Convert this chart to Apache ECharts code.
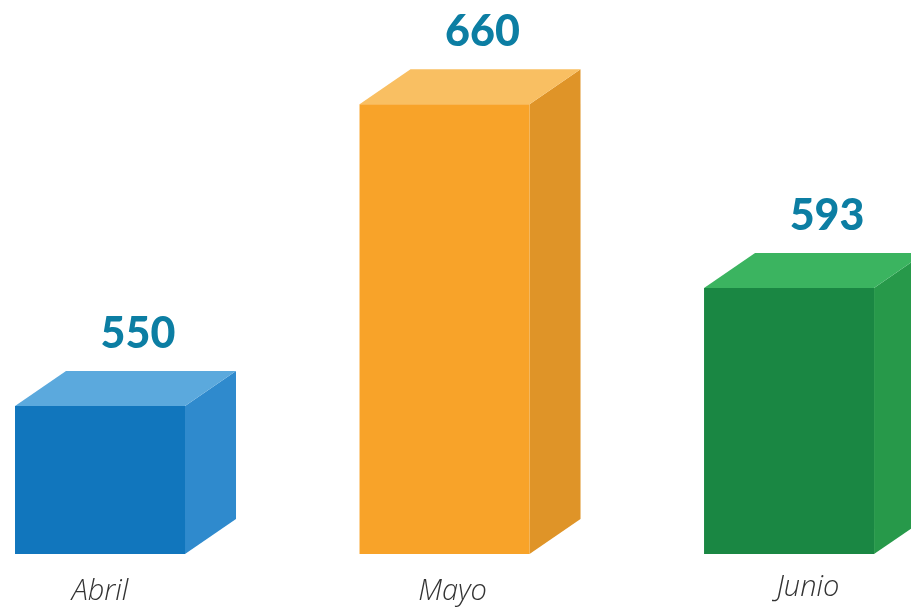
<!DOCTYPE html>
<html>
<head>
<meta charset="utf-8">
<script src="https://cdn.jsdelivr.net/npm/echarts@6/dist/echarts.min.js"></script>
<style>
  html, body { margin: 0; padding: 0; background: #ffffff; }
  #chart { width: 911px; height: 608px; }
</style>
</head>
<body>
<div id="chart"></div>
<script>
// Monthly totals shown as 3D blocks
const months = ['Abril', 'Mayo', 'Junio'];
const totals = [550, 660, 593];
// front, top and side shades per month
const frontColors = ['#1176bd', '#f8a329', '#1a8743'];
const topColors = ['#5ba9dd', '#f9bf62', '#3bb460'];
const sideColors = ['#2f8acd', '#df9428', '#27994a'];

const BAR_W = 170;
const DEPTH_X = 51;
const DEPTH_Y = 35;
const BASE_VALUE = 496;
// small horizontal nudges for the month captions
const captionShift = [0, 8, 19];
const captionDrop = [38, 38, 34];

function renderBlock(params, api) {
  const i = params.dataIndex;
  const top = api.coord([api.value(0), api.value(1)]);
  const base = api.coord([api.value(0), BASE_VALUE]);
  const x0 = top[0] - BAR_W / 2;
  const x1 = top[0] + BAR_W / 2;
  const yT = top[1];
  const yB = base[1];
  return {
    type: 'group',
    children: [
      {
        type: 'polygon',
        shape: { points: [[x1, yT], [x1 + DEPTH_X, yT - DEPTH_Y], [x1 + DEPTH_X, yB - DEPTH_Y], [x1, yB]] },
        style: { fill: sideColors[i] }
      },
      {
        type: 'polygon',
        shape: { points: [[x0, yT], [x0 + DEPTH_X, yT - DEPTH_Y], [x1 + DEPTH_X, yT - DEPTH_Y], [x1, yT]] },
        style: { fill: topColors[i] }
      },
      {
        type: 'rect',
        shape: { x: x0, y: yT, width: BAR_W, height: yB - yT },
        style: { fill: frontColors[i] }
      },
      {
        type: 'text',
        x: top[0] + 38,
        y: yT - 72,
        style: {
          text: String(api.value(1)),
          fill: '#0c7ea3',
          font: '900 43px Lato',
          align: 'center',
          verticalAlign: 'middle'
        }
      },
      {
        type: 'text',
        x: top[0] + captionShift[i],
        y: yB + captionDrop[i],
        style: {
          text: months[i],
          fill: '#333333',
          font: 'italic 300 29px "Open Sans"',
          align: 'center',
          verticalAlign: 'middle'
        }
      }
    ]
  };
}

const chart = echarts.init(document.getElementById('chart'));
chart.setOption({
  animation: false,
  grid: { left: 0, right: 0, top: 0, bottom: 54 },
  xAxis: {
    type: 'value',
    min: -0.2903,
    max: 2.354,
    show: false,
    splitLine: { show: false }
  },
  yAxis: {
    type: 'value',
    min: BASE_VALUE,
    max: 698,
    show: false,
    splitLine: { show: false }
  },
  series: [{
    type: 'custom',
    renderItem: renderBlock,
    clip: false,
    data: months.map((m, i) => [i, totals[i]])
  }]
});
</script>
</body>
</html>
